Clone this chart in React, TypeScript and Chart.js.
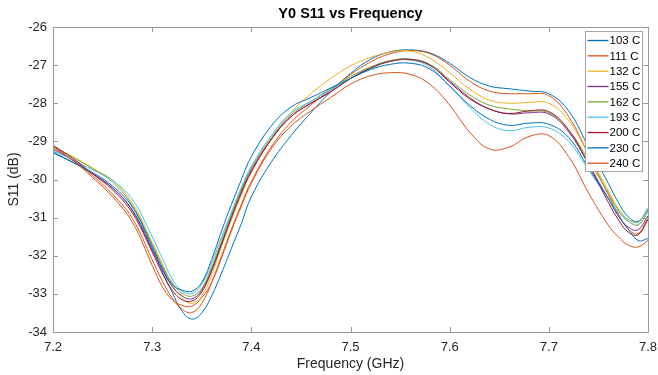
import React, { useEffect, useRef } from 'react';
import { Chart, registerables } from 'chart.js';

Chart.register(...registerables);

const freqGHz = [
  7.2, 7.22, 7.24, 7.26, 7.28, 7.3, 7.31, 7.32, 7.33, 7.34, 7.35, 7.36, 7.37, 7.38, 7.39, 7.4,
  7.42, 7.44, 7.46, 7.48, 7.5, 7.52, 7.54, 7.56, 7.58, 7.6, 7.62, 7.64, 7.66, 7.68, 7.7,
  7.72, 7.74, 7.76, 7.77, 7.78, 7.79, 7.8,
];

const seriesLabels = ['103 C', '111 C', '132 C', '155 C', '162 C', '193 C', '200 C', '230 C', '240 C'];
const seriesColors = ['#0072BD', '#D95319', '#EDB120', '#7E2F8E', '#77AC30', '#4DBEEE', '#A2142F', '#0072BD', '#D95319'];

const s103 = [
  -29.28, -29.55, -29.85, -30.22, -30.8, -31.8, -32.4, -32.95, -33.45, -33.66, -33.5, -33.05, -32.45, -31.8, -31.15, -30.45,
  -29.55, -28.85, -28.25, -27.7, -27.22, -26.85, -26.65, -26.6, -26.68, -26.95, -27.32, -27.55, -27.62, -27.68, -27.75,
  -28.2, -29.15, -30.1, -30.6, -30.98, -31.1, -30.8,
];
const s111 = [
  -29.15, -29.5, -29.9, -30.38, -31.02, -32.1, -32.65, -33.1, -33.4, -33.49, -33.25, -32.7, -32.0, -31.3, -30.65, -30.05,
  -29.15, -28.5, -28.05, -27.65, -27.25, -26.92, -26.7, -26.62, -26.7, -27.0, -27.42, -27.68, -27.75, -27.75, -27.8,
  -28.35, -29.35, -30.4, -30.9, -31.3, -31.42, -31.0,
];
const s132 = [
  -29.15, -29.4, -29.7, -30.02, -30.62, -31.65, -32.2, -32.75, -33.1, -33.25, -33.05, -32.5, -31.75, -31.05, -30.4, -29.8,
  -28.95, -28.25, -27.75, -27.35, -27.02, -26.8, -26.66, -26.63, -26.82, -27.2, -27.62, -27.92, -28.0, -27.98, -28.0,
  -28.45, -29.35, -30.3, -30.75, -31.08, -31.2, -30.85,
];
const s155 = [
  -29.2, -29.5, -29.85, -30.22, -30.82, -31.85, -32.35, -32.8, -33.05, -33.13, -32.9, -32.35, -31.65, -30.95, -30.3, -29.75,
  -28.95, -28.35, -28.0, -27.7, -27.35, -27.08, -26.9, -26.86, -27.0, -27.42, -27.85, -28.15, -28.28, -28.25, -28.28,
  -28.75, -29.6, -30.5, -30.95, -31.25, -31.32, -30.95,
];
const s162 = [
  -29.15, -29.42, -29.72, -30.07, -30.68, -31.7, -32.25, -32.7, -32.98, -33.06, -32.85, -32.3, -31.6, -30.9, -30.25, -29.7,
  -28.9, -28.3, -27.95, -27.62, -27.3, -27.05, -26.88, -26.84, -26.98, -27.38, -27.78, -28.05, -28.15, -28.2, -28.25,
  -28.7, -29.5, -30.35, -30.8, -31.05, -31.12, -30.75,
];
const s193 = [
  -29.25, -29.48, -29.75, -30.02, -30.52, -31.5, -32.05, -32.6, -32.92, -32.99, -32.75, -32.2, -31.5, -30.85, -30.2, -29.65,
  -28.85, -28.25, -27.95, -27.65, -27.35, -27.1, -26.9, -26.86, -27.05, -27.55, -28.1, -28.55, -28.72, -28.63, -28.65,
  -29.0, -29.75, -30.5, -30.85, -31.1, -31.18, -30.85,
];
const s200 = [
  -29.1, -29.45, -29.85, -30.27, -30.88, -31.9, -32.45, -32.9, -33.15, -33.19, -32.95, -32.4, -31.7, -31.0, -30.35, -29.8,
  -28.95, -28.35, -28.0, -27.7, -27.35, -27.08, -26.9, -26.85, -27.0, -27.45, -27.88, -28.15, -28.27, -28.2, -28.22,
  -28.7, -29.6, -30.6, -31.05, -31.38, -31.45, -31.05,
];
const s230 = [
  -29.3, -29.55, -29.82, -30.17, -30.72, -31.75, -32.3, -32.75, -32.9, -32.93, -32.7, -32.1, -31.35, -30.65, -30.0, -29.4,
  -28.6, -28.1, -27.85, -27.6, -27.35, -27.12, -26.98, -26.95, -27.1, -27.55, -28.05, -28.42, -28.58, -28.52, -28.55,
  -28.9, -29.7, -30.5, -30.95, -31.3, -31.6, -31.55,
];
const s240 = [
  -29.12, -29.5, -29.95, -30.45, -31.12, -32.25, -32.8, -33.15, -33.3, -33.32, -33.1, -32.7, -32.05, -31.35, -30.7, -30.1,
  -29.2, -28.6, -28.2, -27.85, -27.5, -27.28, -27.2, -27.24, -27.5, -28.05, -28.75, -29.2, -29.15, -28.87, -28.85,
  -29.4, -30.35, -31.2, -31.5, -31.72, -31.77, -31.6,
];

const seriesValues = [s103, s111, s132, s155, s162, s193, s200, s230, s240];

const xTickValues = [7.2, 7.3, 7.4, 7.5, 7.6, 7.7, 7.8];
const xTickLabels = ['7.2', '7.3', '7.4', '7.5', '7.6', '7.7', '7.8'];
const yTickValues = [-34, -33, -32, -31, -30, -29, -28, -27, -26];
const yTickLabels = ['-34', '-33', '-32', '-31', '-30', '-29', '-28', '-27', '-26'];

const FONT = '"Liberation Sans", Arial, Helvetica, sans-serif';
const AXIS_GRAY = '#9a9a9a';
const LABEL_COLOR = '#262626';

const boxAndLegendPlugin = {
  id: 'matlabBoxLegend',
  afterDraw(chart: any) {
    const { ctx, chartArea } = chart;
    const { left, right, top, bottom } = chartArea;
    const xs = chart.scales.x;
    const ys = chart.scales.y;
    const tick = 5;
    ctx.save();
    ctx.strokeStyle = AXIS_GRAY;
    ctx.lineWidth = 1;
    ctx.beginPath();
    ctx.rect(Math.round(left) + 0.5, Math.round(top) + 0.5, Math.round(right - left), Math.round(bottom - top));
    ctx.stroke();
    ctx.beginPath();
    xTickValues.forEach((v) => {
      const px = Math.round(xs.getPixelForValue(v)) + 0.5;
      ctx.moveTo(px, bottom);
      ctx.lineTo(px, bottom - tick);
      ctx.moveTo(px, top);
      ctx.lineTo(px, top + tick);
    });
    yTickValues.forEach((v) => {
      const py = Math.round(ys.getPixelForValue(v)) + 0.5;
      ctx.moveTo(left, py);
      ctx.lineTo(left + tick, py);
      ctx.moveTo(right, py);
      ctx.lineTo(right - tick, py);
    });
    ctx.stroke();

    // legend box (top-right inside axes)
    const lw = 57;
    const lh = 140;
    const lx = Math.round(right) - 63 + 0.5;
    const ly = Math.round(top) + 4 + 0.5;
    ctx.fillStyle = '#ffffff';
    ctx.fillRect(lx, ly, lw, lh);
    ctx.strokeStyle = '#a6a6a6';
    ctx.strokeRect(lx, ly, lw, lh);
    ctx.font = '11.5px ' + FONT;
    ctx.textBaseline = 'middle';
    ctx.textAlign = 'left';
    chart.data.datasets.forEach((ds: any, i: number) => {
      const y = ly + 9 + i * 15.34;
      ctx.strokeStyle = ds.borderColor;
      ctx.lineWidth = 1.3;
      ctx.beginPath();
      ctx.moveTo(lx + 2, y);
      ctx.lineTo(lx + 23, y);
      ctx.stroke();
      ctx.fillStyle = '#000000';
      ctx.fillText(ds.label, lx + 24, y + 0.5);
    });
    ctx.restore();
  },
};

export default function App() {
  const ref = useRef<HTMLCanvasElement>(null);

  useEffect(() => {
    if (!ref.current) return;
    const n = seriesValues.length;
    const datasets = seriesValues.map((vals, i) => ({
      label: seriesLabels[i],
      data: freqGHz.map((f, j) => ({ x: f, y: vals[j] })),
      borderColor: seriesColors[i],
      backgroundColor: seriesColors[i],
      borderWidth: 1,
      pointRadius: 0,
      fill: false,
      tension: 0.4,
      order: n - 1 - i,
    }));

    const chart = new Chart(ref.current, {
      type: 'line',
      data: { datasets },
      options: {
        responsive: false,
        animation: false,
        devicePixelRatio: 1,
        layout: { padding: { left: 0, right: 10, top: 0, bottom: 0 } },
        plugins: {
          legend: { display: false },
          tooltip: { enabled: false },
          title: {
            display: true,
            text: 'Y0 S11 vs Frequency',
            fullSize: false,
            color: '#000000',
            font: { family: FONT, size: 14.5, weight: 'bold', lineHeight: 1.2 },
            padding: { top: 5, bottom: 4.6 },
          },
        },
        scales: {
          x: {
            type: 'linear',
            min: 7.2,
            max: 7.8,
            grid: { display: false, drawTicks: false },
            border: { display: false },
            afterBuildTicks: (scale: any) => {
              scale.ticks = xTickValues.map((v) => ({ value: v }));
            },
            afterFit: (scale: any) => {
              scale.height = 43;
              scale.paddingLeft = 0;
              scale.paddingRight = 0;
            },
            ticks: {
              autoSkip: false,
              maxRotation: 0,
              padding: 8,
              color: LABEL_COLOR,
              font: { family: FONT, size: 13 },
              callback: (value: any) => {
                const idx = xTickValues.findIndex((t) => Math.abs(t - Number(value)) < 1e-9);
                return idx >= 0 ? xTickLabels[idx] : '';
              },
            },
            title: {
              display: true,
              text: 'Frequency (GHz)',
              color: LABEL_COLOR,
              font: { family: FONT, size: 14, lineHeight: 1.2 },
              padding: { top: 0, bottom: 2.6 },
            },
          },
          y: {
            type: 'linear',
            min: -34,
            max: -26,
            grid: { display: false, drawTicks: false },
            border: { display: false },
            afterBuildTicks: (scale: any) => {
              scale.ticks = yTickValues.map((v) => ({ value: v }));
            },
            afterFit: (scale: any) => {
              scale.width = 53;
              scale.paddingTop = 0;
              scale.paddingBottom = 0;
            },
            ticks: {
              autoSkip: false,
              padding: 6,
              color: LABEL_COLOR,
              font: { family: FONT, size: 13 },
              callback: (value: any) => {
                const idx = yTickValues.findIndex((t) => Math.abs(t - Number(value)) < 1e-9);
                return idx >= 0 ? yTickLabels[idx] : '';
              },
            },
            title: {
              display: true,
              text: 'S11 (dB)',
              color: LABEL_COLOR,
              font: { family: FONT, size: 14, lineHeight: 1.2 },
              padding: { top: 6, bottom: 0 },
            },
          },
        },
      },
      plugins: [boxAndLegendPlugin],
    });
    return () => chart.destroy();
  }, []);

  return (
    <div style={{ position: 'absolute', left: 0, top: 0, width: 658, height: 375, background: '#ffffff' }}>
      <canvas ref={ref} width={658} height={375} style={{ display: 'block', width: 658, height: 375 }} />
    </div>
  );
}
